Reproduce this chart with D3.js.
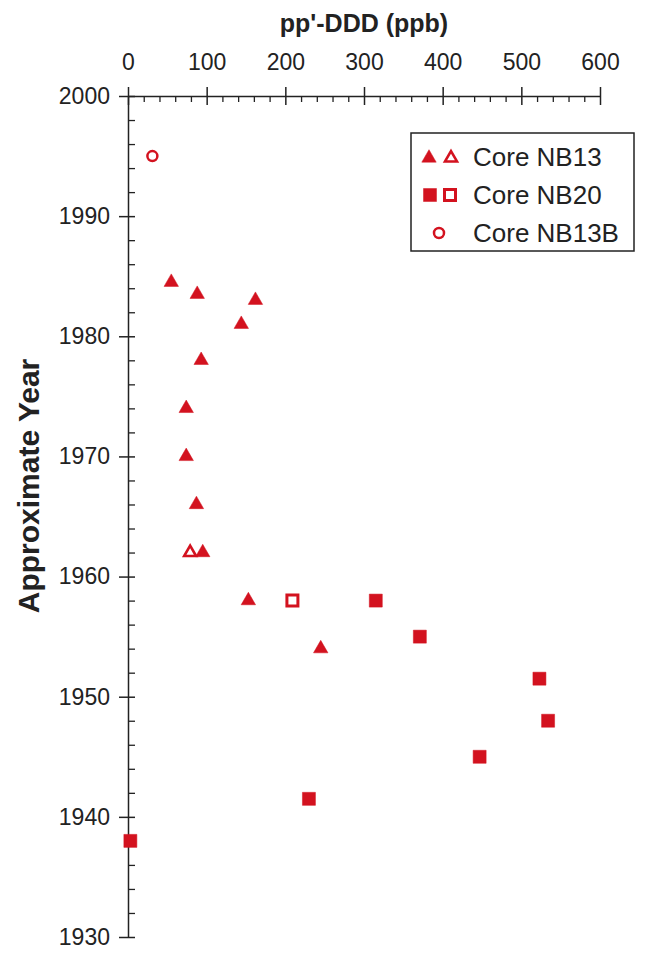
<!DOCTYPE html>
<html>
<head>
<meta charset="utf-8">
<script src="https://cdn.jsdelivr.net/npm/d3@7"></script>
<style>
  html, body { margin: 0; padding: 0; background: #fff; }
  svg { display: block; font-family: "Liberation Sans", Arial, sans-serif; }
</style>
</head>
<body>
<svg id="chart" width="666" height="954"></svg>
<script>
// pp'-DDD concentration (ppb) versus approximate year, per sediment core
const nb13FilledDDD  = [55, 88, 162, 144, 93, 74, 74, 87, 95, 153, 245];
const nb13FilledYear = [1984.5, 1983.5, 1983, 1981, 1978, 1974, 1970, 1966, 1962, 1958, 1954];
const nb13OpenDDD    = [79];
const nb13OpenYear   = [1962];
const nb20FilledDDD  = [315, 371, 523, 534, 447, 230, 3];
const nb20FilledYear = [1958, 1955, 1951.5, 1948, 1945, 1941.5, 1938];
const nb20OpenDDD    = [209];
const nb20OpenYear   = [1958];
const nb13bDDD       = [31];
const nb13bYear      = [1995];

const xTicks = [0, 100, 200, 300, 400, 500, 600];
const yTicks = [1930, 1940, 1950, 1960, 1970, 1980, 1990, 2000];
const legendLabels = ["Core NB13", "Core NB20", "Core NB13B"];

const RED = "#d3121f";
const INK = "#222";
const FONT = "'Liberation Sans', Arial, sans-serif";
const svg = d3.select("#chart");

const x = d3.scaleLinear().domain([0, 600]).range([128, 600]);
const y = d3.scaleLinear().domain([1930, 2000]).range([937, 96]);

// ---- top x axis: minor ticks every 20 pointing inward, majors crossing the line ----
const xMinor = d3.range(0, 601, 20).filter(v => v % 100 !== 0);
svg.append("g").attr("transform", `translate(0,${y(2000)})`)
  .call(d3.axisTop(x).tickValues(xMinor).tickFormat("").tickSize(-6).tickSizeOuter(0))
  .call(g => g.select(".domain").remove())
  .selectAll("line").attr("stroke", INK).attr("stroke-width", 1.3);

const gx = svg.append("g").attr("transform", `translate(0,${y(2000)})`)
  .call(d3.axisTop(x).tickValues(xTicks).tickSize(9).tickSizeOuter(0).tickPadding(17));
gx.select(".domain").attr("stroke", INK).attr("stroke-width", 1.5);
gx.selectAll(".tick line").attr("y1", 9).attr("y2", -9).attr("stroke", INK).attr("stroke-width", 1.5);
gx.selectAll(".tick text").attr("font-size", 23).attr("fill", INK).attr("font-family", FONT);

// ---- left y axis: minor ticks every 2 years ----
const yMinor = d3.range(1930, 2001, 2).filter(v => v % 10 !== 0);
svg.append("g").attr("transform", `translate(${x(0)},0)`)
  .call(d3.axisLeft(y).tickValues(yMinor).tickFormat("").tickSize(-7).tickSizeOuter(0))
  .call(g => g.select(".domain").remove())
  .selectAll("line").attr("stroke", INK).attr("stroke-width", 1.3);

const gy = svg.append("g").attr("transform", `translate(${x(0)},0)`)
  .call(d3.axisLeft(y).tickValues(yTicks).tickFormat(d3.format("d")).tickSize(9).tickSizeOuter(0).tickPadding(9));
gy.select(".domain").attr("stroke", INK).attr("stroke-width", 1.5);
gy.selectAll(".tick line").attr("x1", 7).attr("x2", -9).attr("stroke", INK).attr("stroke-width", 1.5);
gy.selectAll(".tick text").attr("font-size", 23).attr("fill", INK).attr("font-family", FONT);

// ---- axis titles ----
svg.append("text")
  .attr("x", (x(0) + x(600)) / 2).attr("y", 32)
  .attr("text-anchor", "middle").attr("font-size", 25).attr("font-weight", "bold").attr("fill", INK)
  .text("pp'-DDD (ppb)");

svg.append("text")
  .attr("transform", `translate(39,486) rotate(-90)`)
  .attr("text-anchor", "middle").attr("font-size", 30).attr("font-weight", "bold").attr("fill", INK)
  .text("Approximate Year");

// ---- markers ----
const tri = d3.symbol().type(d3.symbolTriangle).size(90)();
const triOpen = d3.symbol().type(d3.symbolTriangle).size(62)();
const sq = d3.symbol().type(d3.symbolSquare).size(169)();
const sqOpen = d3.symbol().type(d3.symbolSquare).size(121)();

function plot(xs, ys, path, filled, sw) {
  svg.append("g").selectAll("path")
    .data(xs.map((v, i) => [v, ys[i]]))
    .join("path")
    .attr("d", path)
    .attr("transform", d => `translate(${x(d[0])},${y(d[1])})`)
    .attr("fill", filled ? RED : "#fff")
    .attr("stroke", RED)
    .attr("stroke-width", sw);
}

plot(nb13FilledDDD, nb13FilledYear, tri, true, 0.5);
plot(nb13OpenDDD, nb13OpenYear, triOpen, false, 2.6);
plot(nb20FilledDDD, nb20FilledYear, sq, true, 0.5);
plot(nb20OpenDDD, nb20OpenYear, sqOpen, false, 3);

svg.append("g").selectAll("circle")
  .data(nb13bDDD.map((v, i) => [v, nb13bYear[i]]))
  .join("circle")
  .attr("cx", d => x(d[0])).attr("cy", d => y(d[1])).attr("r", 5)
  .attr("fill", "#fff").attr("stroke", RED).attr("stroke-width", 2.5);

// ---- legend ----
const lg = svg.append("g");
lg.append("rect").attr("x", 411).attr("y", 133).attr("width", 223).attr("height", 118)
  .attr("fill", "#fff").attr("stroke", INK).attr("stroke-width", 1.5);

const rowY = [157, 195, 233];
lg.append("path").attr("d", tri).attr("transform", `translate(429,${rowY[0] + 1})`).attr("fill", RED).attr("stroke", RED).attr("stroke-width", 0.5);
lg.append("path").attr("d", triOpen).attr("transform", `translate(451,${rowY[0] + 1})`).attr("fill", "#fff").attr("stroke", RED).attr("stroke-width", 2.6);
lg.append("path").attr("d", sq).attr("transform", `translate(430,${rowY[1]})`).attr("fill", RED).attr("stroke", RED).attr("stroke-width", 0.5);
lg.append("path").attr("d", sqOpen).attr("transform", `translate(450,${rowY[1]})`).attr("fill", "#fff").attr("stroke", RED).attr("stroke-width", 3);
lg.append("circle").attr("cx", 439).attr("cy", rowY[2]).attr("r", 5)
  .attr("fill", "#fff").attr("stroke", RED).attr("stroke-width", 2.5);

lg.selectAll("text.lbl").data(legendLabels).join("text")
  .attr("class", "lbl")
  .attr("x", 473).attr("y", (d, i) => rowY[i] + 9)
  .attr("font-size", 26).attr("fill", INK).attr("font-family", FONT)
  .text(d => d);
</script>
</body>
</html>
